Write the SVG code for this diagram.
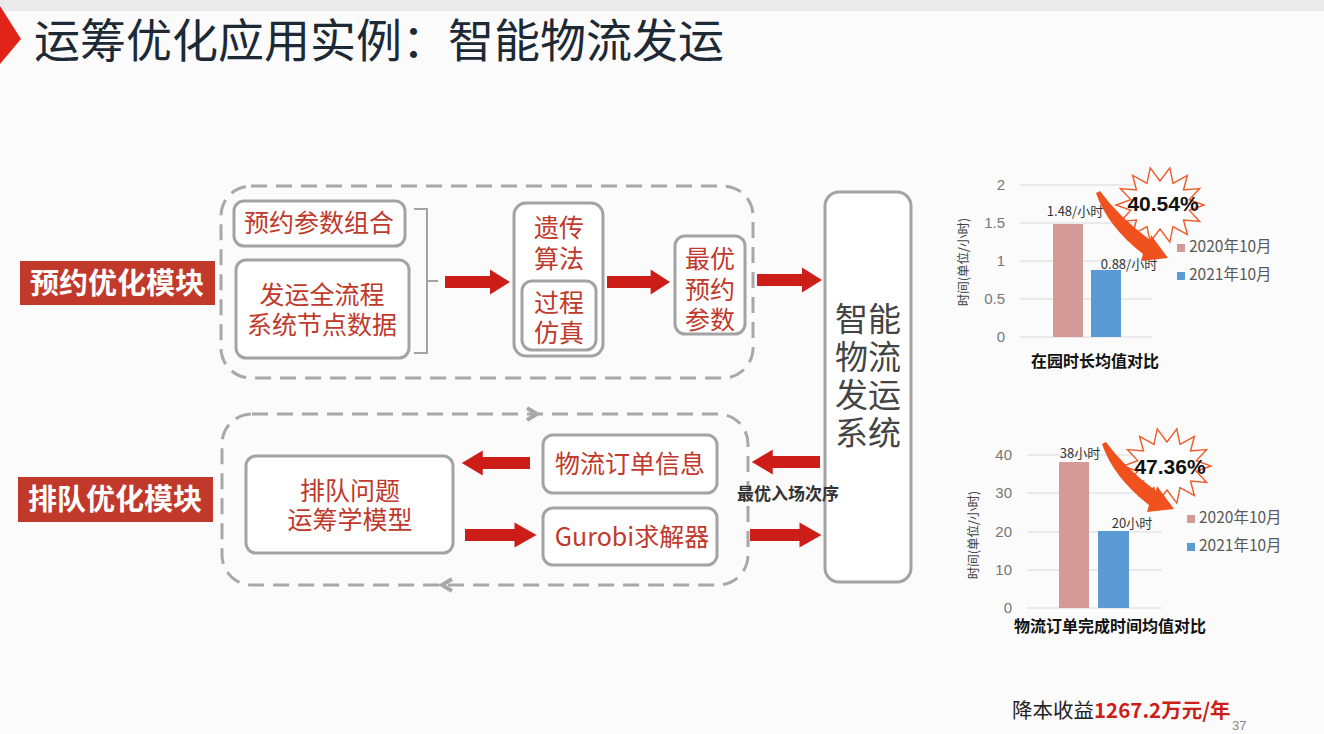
<svg xmlns="http://www.w3.org/2000/svg" xmlns:xlink="http://www.w3.org/1999/xlink" width="1324" height="734" viewBox="0 0 1324 734">
<style>
.cjk{font-family:"Noto Sans CJK SC","Noto Sans",sans-serif}
.box{fill:#ffffff;stroke:#a3a3a3;stroke-width:3}
.dash{fill:none;stroke:#a8a8a8;stroke-width:3;stroke-dasharray:16 9}
.rt{fill:#c0392b;font-size:25px;text-anchor:middle}
.lab{fill:#ffffff;font-size:29px;font-weight:bold;text-anchor:middle}
.labbg{fill:#c0392b}
.arr{fill:#cc1d18}
.grid{stroke:#d9d9d9;stroke-width:1}
.tick{fill:#777777;font-size:15px;text-anchor:end;font-family:"Liberation Sans",sans-serif}
.bl{fill:#333333;font-size:13px;text-anchor:middle}
.lg{fill:#595959;font-size:15.5px}
.yt{fill:#444444;font-size:12.5px;text-anchor:middle}
.xt{fill:#111111;font-size:16px;font-weight:bold;text-anchor:middle}
.pct{fill:#111111;font-size:21px;font-weight:bold;text-anchor:middle;font-family:"Liberation Sans",sans-serif}
.burst{fill:#ffffff;stroke:#ef5a2a;stroke-width:1.4}
.curve{fill:#f0521f}
.chev{fill:none;stroke:#a8a8a8;stroke-width:4;stroke-linejoin:miter}
</style>
<defs>
<path id="blk" d="M0,-6 H45 V-12.5 L65,0 L45,12.5 V6 H0 Z"/>
<polygon id="burst" points="44,0 29.3,5.4 39.6,16.5 23.5,15 27.4,29.7 13,21.6 9.8,37.1 0,24 -9.8,37.1 -13,21.6 -27.4,29.7 -23.5,15 -39.6,16.5 -29.3,5.4 -44,0 -29.3,-5.4 -39.6,-16.5 -23.5,-15 -27.4,-29.7 -13,-21.6 -9.8,-37.1 0,-24 9.8,-37.1 13,-21.6 27.4,-29.7 23.5,-15 39.6,-16.5 29.3,-5.4"/>
<path id="curveArrow" d="M1100,191 Q1118,216 1150,240 L1151,235 L1168,258 L1141,261 L1143,254 Q1107,226 1096,193 Z"/>
</defs>
<rect x="0" y="0" width="1324" height="734" fill="#fbfbfb"/>
<rect x="0" y="0" width="1324" height="11" fill="#ebebeb"/>
<polygon points="0,6 21,39 0,64" fill="#e2231a"/>
<text x="34" y="57" class="cjk" font-size="46" fill="#1d2a36">运筹优化应用实例：智能物流发运</text>

<g id="label-yuyue">
<rect x="20" y="261" width="195" height="44" class="labbg"/>
<text x="117" y="294" class="cjk lab">预约优化模块</text>
</g>
<g id="label-paidui">
<rect x="18" y="477" width="195" height="45" class="labbg"/>
<text x="115" y="510" class="cjk lab">排队优化模块</text>
</g>

<g id="frame-top"><rect x="221" y="186" width="532" height="192" rx="30" class="dash"/></g>
<g id="frame-bottom">
<rect x="222" y="414" width="526" height="171" rx="30" class="dash"/>
<path d="M527,408 L537,414 L527,420" class="chev"/>
<path d="M452,579 L442,585 L452,591" class="chev"/>
</g>

<g id="node-canshu">
<rect x="234" y="201" width="171" height="45" rx="10" class="box"/>
<text x="319" y="232" class="cjk rt">预约参数组合</text>
</g>
<g id="node-shuju">
<rect x="236" y="260" width="173" height="98" rx="10" class="box"/>
<text x="322" y="304" class="cjk rt">发运全流程</text>
<text x="322" y="334" class="cjk rt">系统节点数据</text>
</g>
<g id="bracket"><path d="M414,209 H427 V353 H414 M427,281 H438" fill="none" stroke="#a3a3a3" stroke-width="2"/></g>
<g id="node-yichuan">
<rect x="514" y="203" width="89" height="153" rx="12" class="box"/>
<text x="559" y="237" class="cjk rt">遗传</text>
<text x="559" y="268" class="cjk rt">算法</text>
</g>
<g id="node-fangzhen">
<rect x="522" y="281" width="74" height="69" rx="10" class="box"/>
<text x="559" y="312" class="cjk rt">过程</text>
<text x="559" y="342" class="cjk rt">仿真</text>
</g>
<g id="node-zuiyou">
<rect x="675" y="236" width="70" height="98" rx="10" class="box"/>
<text x="710" y="268" class="cjk rt">最优</text>
<text x="710" y="299" class="cjk rt">预约</text>
<text x="710" y="329" class="cjk rt">参数</text>
</g>
<g id="node-system">
<rect x="825" y="192" width="86" height="390" rx="14" class="box"/>
<text class="cjk" font-size="33" fill="#444444" text-anchor="middle"><tspan x="868" y="331">智能</tspan><tspan x="868" y="369">物流</tspan><tspan x="868" y="407">发运</tspan><tspan x="868" y="445">系统</tspan></text>
</g>
<g id="node-paidui">
<rect x="246" y="456" width="207" height="97" rx="10" class="box"/>
<text x="350" y="500" class="cjk rt">排队问题</text>
<text x="350" y="529" class="cjk rt">运筹学模型</text>
</g>
<g id="node-dingdan">
<rect x="543" y="435" width="174" height="58" rx="10" class="box"/>
<text x="630" y="473" class="cjk rt">物流订单信息</text>
</g>
<g id="node-gurobi">
<rect x="543" y="508" width="174" height="57" rx="10" class="box"/>
<text x="632" y="546" class="cjk rt">Gurobi求解器</text>
</g>

<g id="connectors">
<use href="#blk" class="arr" transform="translate(445,282)"/>
<use href="#blk" class="arr" transform="translate(607,282) scale(0.97,1)"/>
<use href="#blk" class="arr" transform="translate(757,280)"/>
<use href="#blk" class="arr" transform="translate(530,463) scale(-1.05,1)"/>
<use href="#blk" class="arr" transform="translate(465,535) scale(1.1,1)"/>
<use href="#blk" class="arr" transform="translate(820,462) scale(-1.05,1)"/>
<use href="#blk" class="arr" transform="translate(750,535) scale(1.1,1)"/>
<text x="737" y="500" class="cjk" font-size="17" font-weight="bold" fill="#333333">最优入场次序</text>
</g>

<g id="chart1">
<line x1="1020" y1="185" x2="1152" y2="185" class="grid"/>
<line x1="1020" y1="223" x2="1152" y2="223" class="grid"/>
<line x1="1020" y1="261" x2="1152" y2="261" class="grid"/>
<line x1="1020" y1="299" x2="1152" y2="299" class="grid"/>
<line x1="1020" y1="337" x2="1152" y2="337" class="grid"/>
<text x="1005" y="190" class="tick">2</text>
<text x="1005" y="228" class="tick">1.5</text>
<text x="1005" y="266" class="tick">1</text>
<text x="1005" y="304" class="tick">0.5</text>
<text x="1005" y="342" class="tick">0</text>
<rect x="1053" y="224" width="30" height="113" fill="#d49a98"/>
<rect x="1091" y="270" width="30" height="67" fill="#5b9bd5"/>
<text x="1075" y="216" class="cjk bl">1.48/小时</text>
<text x="1129" y="269" class="cjk bl">0.88/小时</text>
<text transform="translate(968,262) rotate(-90)" class="cjk yt">时间(单位/小时)</text>
<text x="1095" y="367" class="cjk xt">在园时长均值对比</text>
<rect x="1177" y="244" width="8" height="8" fill="#d49a98"/>
<text x="1189" y="252" class="cjk lg">2020年10月</text>
<rect x="1177" y="272" width="8" height="8" fill="#5b9bd5"/>
<text x="1189" y="280" class="cjk lg">2021年10月</text>
<use href="#burst" class="burst" transform="translate(1160,205)"/>
<use href="#curveArrow" class="curve"/>
<text x="1163" y="211" class="pct">40.54%</text>
</g>

<g id="chart2">
<line x1="1027" y1="455" x2="1162" y2="455" class="grid"/>
<line x1="1027" y1="493" x2="1162" y2="493" class="grid"/>
<line x1="1027" y1="532" x2="1162" y2="532" class="grid"/>
<line x1="1027" y1="570" x2="1162" y2="570" class="grid"/>
<line x1="1027" y1="608" x2="1162" y2="608" class="grid"/>
<text x="1012" y="460" class="tick">40</text>
<text x="1012" y="498" class="tick">30</text>
<text x="1012" y="537" class="tick">20</text>
<text x="1012" y="575" class="tick">10</text>
<text x="1012" y="613" class="tick">0</text>
<rect x="1059" y="462" width="30" height="146" fill="#d49a98"/>
<rect x="1098" y="531" width="31" height="77" fill="#5b9bd5"/>
<text x="1080" y="458" class="cjk bl">38小时</text>
<text x="1132" y="528" class="cjk bl">20小时</text>
<text transform="translate(978,535) rotate(-90)" class="cjk yt">时间(单位/小时)</text>
<text x="1110" y="632" class="cjk xt">物流订单完成时间均值对比</text>
<rect x="1187" y="515" width="8" height="8" fill="#d49a98"/>
<text x="1199" y="523" class="cjk lg">2020年10月</text>
<rect x="1187" y="543" width="8" height="8" fill="#5b9bd5"/>
<text x="1199" y="551" class="cjk lg">2021年10月</text>
<use href="#burst" class="burst" transform="translate(1167,466)"/>
<use href="#curveArrow" class="curve" transform="translate(6,251)"/>
<text x="1170" y="474" class="pct">47.36%</text>
</g>

<g id="footer">
<text x="1012" y="718" class="cjk" font-size="20.5" fill="#222222">降本收益<tspan fill="#cc1f1a" font-weight="bold">1267.2万元/年</tspan></text>
<text x="1232" y="730" font-family="Liberation Sans, sans-serif" font-size="13" fill="#888888">37</text>
</g>
</svg>
